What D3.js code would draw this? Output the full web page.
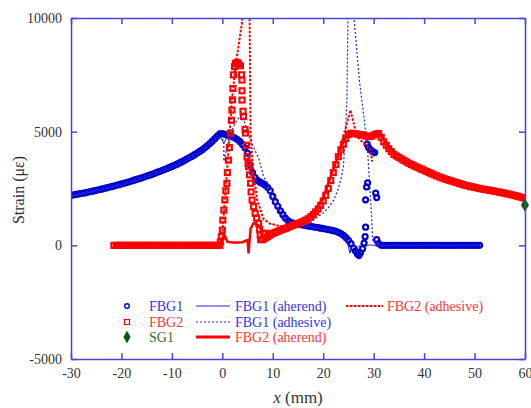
<!DOCTYPE html>
<html><head><meta charset="utf-8">
<script src="https://cdn.jsdelivr.net/npm/d3@7"></script>
<style>body{margin:0;background:#fff;} svg{display:block;}</style>
</head><body>
<script>
// ---------- data ----------
const xTicks = [-30,-20,-10,0,10,20,30,40,50,60];
const yTicks = [-5000,0,5000,10000];

const fbg1Markers = [
[-30,2200],[-29.5,2220],[-29,2240],[-28.5,2260],[-28,2280],[-27.5,2300],[-27,2320],[-26.5,2345],[-26,2370],[-25.5,2395],
[-25,2420],[-24.5,2445],[-24,2470],[-23.5,2495],[-23,2525],[-22.5,2550],[-22,2580],[-21.5,2610],[-21,2640],[-20.5,2670],
[-20,2700],[-19.5,2730],[-19,2765],[-18.5,2795],[-18,2830],[-17.5,2865],[-17,2900],[-16.5,2935],[-16,2970],[-15.5,3005],
[-15,3045],[-14.5,3080],[-14,3120],[-13.5,3160],[-13,3205],[-12.5,3245],[-12,3290],[-11.5,3335],[-11,3380],[-10.5,3425],
[-10,3470],[-9.5,3520],[-9,3570],[-8.5,3625],[-8,3680],[-7.5,3740],[-7,3800],[-6.5,3860],[-6,3920],[-5.5,3990],
[-5,4060],[-4.5,4130],[-4,4200],[-3.5,4290],[-3,4380],[-2.5,4480],[-2,4580],[-1.5,4690],[-1,4800],[-0.5,4900],
[0,4920],[0.5,4880],[1,4850],[1.5,4810],[2,4770],[2.5,4720],[3,4650],[3.5,4560],[4,4440],[4.5,4290],
[5,4050],[5.5,3550],[6,3200],[6.5,2980],[7,2850],[7.5,2780],[8,2720],[8.5,2640],[9,2540],[9.5,2400],
[10,2150],[10.5,1920],[11,1720],[11.5,1520],[12,1350],[12.5,1200],[13,1090],[13.5,1010],[14,975],[14.5,955],
[15,935],[15.5,915],[16,895],[16.5,875],[17,855],[17.5,835],[18,815],[18.5,795],[19,775],[19.5,755],
[20,735],[20.5,715],[21,695],[21.5,670],[22,645],[22.5,615],[23,575],[23.5,520],[24,440],[24.5,340],
[25,220],[25.5,80],
[26,-120],[26.4,-250],[26.8,-380],[27.1,-450],[27.4,-330],[27.8,-150],[28.1,100],[28.3,380],[28.4,800],
[28.4,2000],[28.6,2570],[28.8,2750],[30.4,2300],[30.6,2100],
[28.7,4450],[29.0,4300],[29.4,4200],[29.8,4120],[30.2,4080],
[30.6,250],[31,80],
[31.5,0],[32,0],[32.5,0],[33,0],[33.5,0],[34,0],[34.5,0],[35,0],[35.5,0],[36,0],[36.5,0],[37,0],[37.5,0],[38,0],
[38.5,0],[39,0],[39.5,0],[40,0],[40.5,0],[41,0],[41.5,0],[42,0],[42.5,0],[43,0],[43.5,0],[44,0],[44.5,0],[45,0],
[45.5,0],[46,0],[46.5,0],[47,0],[47.5,0],[48,0],[48.5,0],[49,0],[49.5,0],[50,0],[50.5,0],[51,0]
];

const fbg1Aherend = [
[-30,2150],[-25,2380],[-20,2640],[-15,2980],[-10,3400],[-6,3850],[-4,4130],[-2,4500],[-1,4680],[-0.3,4760],
[0.3,4480],[0.8,4700],[1.5,4680],[3,4540],[4,4330],[5,3950],[6,3120],[7,2760],[8,2620],[9,2420],
[10,1980],[11,1580],[12,1280],[13,1080],[14,980],[16,880],[18,790],[20,710],[22,620],[23,560],
[24,400],[24.8,120],[25.3,-350],[25.9,60],[26.8,-100],[27.6,60],[28.4,-40],[29.2,20],[30,0],[51,0]
];

const fbg1Adhesive = [
[-30,2200],[-20,2700],[-10,3470],[-5,4060],[-2,4580],[-1,4750],[-0.3,4680],[0.3,4620],[0.3,3700],[0.9,4300],
[1.6,4900],[2.6,5400],[3.9,5820],[4.8,5100],[5.8,4500],[7.2,3830],[8.2,3000],[9.5,2570],[10.5,2000],[11.5,1450],
[12.5,1050],[13.5,850],[15,800],[16.5,850],[17.5,970],[18.5,1200],[20,1420],[21,1650],[22.1,1990],[23,2500],
[23.6,3000],[24,3460],[24.4,4940],[24.7,6400],[24.9,10000],[25.4,13000],[26.1,10000],[27.2,7200],[28.7,4500],[29.4,2000],
[29.7,800],[29.8,230],[30.3,90],[31,0],[51,0]
];

const fbg2Markers = [
[-21.5,0],[-21,0],[-20.5,0],[-20,0],[-19.5,0],[-19,0],[-18.5,0],[-18,0],[-17.5,0],[-17,0],[-16.5,0],[-16,0],
[-15.5,0],[-15,0],[-14.5,0],[-14,0],[-13.5,0],[-13,0],[-12.5,0],[-12,0],[-11.5,0],[-11,0],[-10.5,0],[-10,0],
[-9.5,0],[-9,0],[-8.5,0],[-8,0],[-7.5,0],[-7,0],[-6.5,0],[-6,0],[-5.5,0],[-5,0],[-4.5,0],[-4,0],[-3.5,0],
[-3,0],[-2.5,0],[-2,0],[-1.5,0],[-1,0],[-0.5,0],
[-0.4,150],[-0.2,380],[0,670],[0.1,1110],[0.3,1550],[0.5,2000],[0.7,2400],[0.9,2730],[1.0,3200],[1.2,3750],
[1.4,4300],[1.6,4940],[1.8,5500],[1.9,5950],[2.0,6400],[2.1,6900],[2.2,7500],[2.4,7860],[2.6,8000],[2.9,8050],
[3.2,8000],[3.6,7900],[3.8,7500],[3.9,7270],[3.9,6800],[3.9,6390],[4.1,5900],[4.2,5660],[4.5,5100],[4.6,4940],
[4.8,4400],[4.9,3900],[5.1,3600],[5.2,3460],[5.4,3100],[5.6,2730],[5.7,2350],[5.9,1990],[6.2,1700],[6.5,1410],
[6.8,1200],[7.2,970],[7.4,700],[7.5,450],[7.6,250],[8.2,530],
[8,250],[8.5,310],[9,380],[9.5,450],[10,520],[10.5,570],[11,620],[11.5,660],[12,700],[12.5,745],[13,790],
[13.5,835],[14,880],[14.5,920],[15,960],[15.5,1000],[16,1050],[16.5,1105],[17,1170],[17.5,1250],[18,1350],
[18.5,1470],[19,1600],[19.5,1760],[20,1950],[20.5,2200],[21,2500],[21.5,2850],[22,3200],[22.5,3550],[23,3900],
[23.5,4200],[24,4450],[24.5,4700],[25,4880],[25.5,4930],[26,4920],[26.5,4900],[27,4880],[27.5,4860],[28,4850],
[28.5,4800],[29,4780],[29.5,4800],[30,4850],[30.5,4900],[31,4920],[31.5,4750],[32,4550],[32.5,4400],[33,4250],
[33.5,4120],[34,4000],[34.5,3930],[35,3870],[35.5,3800],[36,3730],[36.5,3670],[37,3610],[37.5,3555],[38,3500],
[38.5,3450],[39,3400],[39.5,3350],[40,3300],[40.5,3250],[41,3200],[41.5,3150],[42,3100],[42.5,3055],[43,3010],
[43.5,2970],[44,2930],[44.5,2895],[45,2860],[45.5,2825],[46,2790],[46.5,2755],[47,2720],[47.5,2685],[48,2650],
[48.5,2625],[49,2600],[49.5,2575],[50,2550],[50.5,2525],[51,2500],[51.5,2480],[52,2460],[52.5,2440],[53,2420],
[53.5,2400],[54,2380],[54.5,2358],[55,2335],[55.5,2312],[56,2290],[56.5,2265],[57,2240],[57.5,2215],[58,2190],
[58.5,2160],[59,2130],[59.5,2100],[60,2070]
];

const fbg2Aherend = [
[-21.5,0],[-0.5,0],[0,300],[0.5,420],[1,160],[2,120],[3,120],[4,140],[4.6,200],[5.0,230],
[5.2,-350],[5.6,720],[6.2,980],[7,900],[8,620],[10,640],[12,740],[14,900],[16,1080],[18,1420],
[20,2100],[22,3350],[24,4550],[25,4900],[26,4960],[28,4870],[29.5,4820],[31,4960],[33,4300],[36,3780],
[40,3320],[45,2880],[50,2570],[55,2350],[60,2080]
];

const fbg2Adhesive = [
[-21.5,0],[-0.5,0],[0,500],[1,3500],[1.9,6390],[2.6,7860],[3.9,9800],[4.7,13000],[5.4,10000],[5.6,5000],
[6.0,3500],[6.9,2000],[8.2,1150],[9.5,950],[12,820],[14,900],[16,1050],[18,1350],[20,2000],[22,3300],
[23.4,4340],[24.5,5200],[25.4,5950],[26.7,4780],[28,4500],[29.4,4190],[29.7,3680]
];

const sg1 = [[60,1770]];

const legendItems = ["FBG1","FBG2","SG1","FBG1 (aherend)","FBG1 (adhesive)","FBG2 (aherend)","FBG2 (adhesive)"];

// ---------- chart ----------
const W = 531, H = 408;
const blue = "#0000cc", red = "#ff0000", green = "#0b5a0b", axisCol = "#4646dc", txt = "#333";
const svg = d3.select("body").append("svg").attr("width", W).attr("height", H)
  .style("font-family", "'Liberation Serif','Times New Roman',serif");

const x = d3.scaleLinear().domain([-30, 60]).range([71, 525]);
const y = d3.scaleLinear().domain([-5000, 10000]).range([359, 18]);

svg.append("defs").append("clipPath").attr("id", "clip")
  .append("rect").attr("x", 71).attr("y", 18).attr("width", 454).attr("height", 341);

const plot = svg.append("g").attr("clip-path", "url(#clip)");
const line = d3.line().x(d => x(d[0])).y(d => y(d[1]));

// FBG1 markers
plot.append("g").selectAll("circle").data(fbg1Markers).join("circle")
  .attr("cx", d => x(d[0])).attr("cy", d => y(d[1])).attr("r", 2.5)
  .attr("fill", "none").attr("stroke", blue).attr("stroke-width", 2.2);
// FBG1 lines
plot.append("path").datum(fbg1Aherend).attr("d", line)
  .attr("fill", "none").attr("stroke", "#2222dd").attr("stroke-width", 1);
plot.append("path").datum(fbg1Adhesive).attr("d", line)
  .attr("fill", "none").attr("stroke", "#2222dd").attr("stroke-width", 1.2).attr("stroke-dasharray", "2,2");
// FBG2 lines (aherend under markers)
plot.append("path").datum(fbg2Aherend).attr("d", line)
  .attr("fill", "none").attr("stroke", red).attr("stroke-width", 2.5);
// FBG2 markers
plot.append("g").selectAll("rect").data(fbg2Markers).join("rect")
  .attr("x", d => x(d[0]) - 2.5).attr("y", d => y(d[1]) - 2.5).attr("width", 5).attr("height", 5)
  .attr("fill", "none").attr("stroke", red).attr("stroke-width", 2.1);
plot.append("path").datum(fbg2Adhesive).attr("d", line)
  .attr("fill", "none").attr("stroke", red).attr("stroke-width", 2).attr("stroke-dasharray", "2.5,1.5");

// SG1
svg.append("g").selectAll("path").data(sg1).join("path")
  .attr("d", d3.symbol(d3.symbolDiamond, 55))
  .attr("transform", d => `translate(${x(d[0])},${y(d[1])})`)
  .attr("fill", green);

// axes
function styleAxis(g) {
  g.selectAll(".domain").attr("stroke", axisCol).attr("stroke-width", 1.5);
  g.selectAll(".tick line").attr("stroke", axisCol).attr("stroke-width", 1.5);
  g.selectAll(".tick text").attr("fill", txt).style("font-size", "14px")
    .style("font-family", "'Liberation Serif',serif");
}
const plain = d => String(d);
svg.append("g").attr("transform", "translate(0,359)")
  .call(d3.axisBottom(x).tickValues(xTicks).tickSizeInner(-6).tickSizeOuter(0).tickPadding(9).tickFormat(plain))
  .call(styleAxis);
svg.append("g").attr("transform", "translate(0,18)")
  .call(d3.axisTop(x).tickValues(xTicks).tickSizeInner(-6).tickSizeOuter(0).tickFormat(""))
  .call(styleAxis);
svg.append("g").attr("transform", "translate(71,0)")
  .call(d3.axisLeft(y).tickValues(yTicks).tickSizeInner(-6).tickSizeOuter(0).tickPadding(9).tickFormat(plain))
  .call(styleAxis);
svg.append("g").attr("transform", "translate(525,0)")
  .call(d3.axisRight(y).tickValues(yTicks).tickSizeInner(-6).tickSizeOuter(0).tickFormat(""))
  .call(styleAxis);

// axis titles
const yt = svg.append("text").attr("transform", "translate(24,190) rotate(-90)")
  .attr("text-anchor", "middle").attr("fill", txt).style("font-size", "16px");
yt.text("Strain (με)");
const xt = svg.append("text").attr("x", 298).attr("y", 403).attr("text-anchor", "middle")
  .attr("fill", txt).style("font-size", "17px");
xt.append("tspan").style("font-style", "italic").text("x");
xt.append("tspan").text(" (mm)");

// legend
const lg = svg.append("g").style("font-size", "14px");
const rows = [306, 322, 337];
lg.append("circle").attr("cx", 127).attr("cy", rows[0]).attr("r", 2.3)
  .attr("fill", "none").attr("stroke", blue).attr("stroke-width", 1.4);
lg.append("rect").attr("x", 124.5).attr("y", rows[1] - 2.5).attr("width", 5).attr("height", 5)
  .attr("fill", "none").attr("stroke", red).attr("stroke-width", 1.2);
lg.append("path").attr("d", d3.symbol(d3.symbolDiamond, 45))
  .attr("transform", `translate(127,${rows[2]})`).attr("fill", green);
const labCol = ["#3333ee", "#ff3333", "#2e6b2e", "#3333ee", "#3333ee", "#ff3333", "#ff3333"];
const labPos = [[149, rows[0]], [149, rows[1]], [149, rows[2]], [235, rows[0]], [235, rows[1]], [235, rows[2]], [387, rows[0]]];
legendItems.forEach((t, i) => {
  lg.append("text").attr("x", labPos[i][0]).attr("y", labPos[i][1] + 5).attr("fill", labCol[i]).text(t);
});
lg.append("line").attr("x1", 196).attr("x2", 230).attr("y1", rows[0]).attr("y2", rows[0])
  .attr("stroke", "#2222dd").attr("stroke-width", 1);
lg.append("line").attr("x1", 196).attr("x2", 230).attr("y1", rows[1]).attr("y2", rows[1])
  .attr("stroke", "#2222dd").attr("stroke-width", 1.2).attr("stroke-dasharray", "2,2");
lg.append("line").attr("x1", 196).attr("x2", 230).attr("y1", rows[2]).attr("y2", rows[2])
  .attr("stroke", red).attr("stroke-width", 3);
lg.append("line").attr("x1", 346).attr("x2", 383).attr("y1", rows[0]).attr("y2", rows[0])
  .attr("stroke", red).attr("stroke-width", 2).attr("stroke-dasharray", "2.5,1.5");
</script>
</body></html>
